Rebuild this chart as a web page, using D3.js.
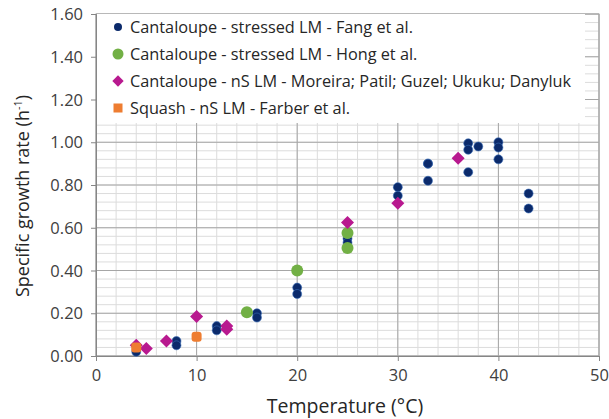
<!DOCTYPE html>
<html><head><meta charset="utf-8">
<script src="https://cdn.jsdelivr.net/npm/d3@7"></script>
<style>body{margin:0;background:#fff}svg{display:block}text{font-family:"Open Sans",sans-serif}</style>
</head><body><svg id="c" width="609" height="419"></svg>
<script>
const xTicks=[0,10,20,30,40,50];
const yTicks=[0,0.2,0.4,0.6,0.8,1.0,1.2,1.4,1.6];
const seriesNames=["Cantaloupe - stressed LM - Fang et al.","Cantaloupe - stressed LM - Hong et al.","Cantaloupe - nS LM - Moreira; Patil; Guzel; Ukuku; Danyluk","Squash - nS LM - Farber et al."];
const fangT=[4,8,8,12,12,16,16,20,20,25,25,30,30,33,33,33,37,37,37,38,40,40,40,43,43];
const fangR=[0.02,0.07,0.05,0.14,0.12,0.20,0.18,0.32,0.29,0.55,0.53,0.79,0.75,0.90,0.90,0.82,0.995,0.965,0.86,0.98,1.00,0.975,0.92,0.76,0.69];
const hongT=[15,20,25,25];
const hongR=[0.205,0.40,0.575,0.505];
const morT=[4,5,7,10,13,13,25,30,36];
const morR=[0.05,0.035,0.07,0.185,0.14,0.125,0.625,0.715,0.925];
const sqT=[4,10];
const sqR=[0.04,0.09];

const svg=d3.select("#c");
const x=d3.scaleLinear().domain([0,50]).range([96,599]);
const y=d3.scaleLinear().domain([0,1.6]).range([356,14]);
const g=svg.append("g");
// minor grid
g.selectAll(".vm").data(d3.range(0,50.01,2)).join("line").attr("x1",d=>x(d)).attr("x2",d=>x(d)).attr("y1",y(0)).attr("y2",y(1.6)).attr("stroke","#dcdcdc").attr("stroke-width",1);
g.selectAll(".hm").data(d3.range(0,1.601,0.04)).join("line").attr("y1",d=>y(d)).attr("y2",d=>y(d)).attr("x1",x(0)).attr("x2",x(50)).attr("stroke","#dcdcdc").attr("stroke-width",1);
// major grid
g.selectAll(".vM").data(xTicks).join("line").attr("x1",d=>x(d)).attr("x2",d=>x(d)).attr("y1",y(0)).attr("y2",y(1.6)).attr("stroke","#a6a6a6").attr("stroke-width",1);
g.selectAll(".hM").data(yTicks).join("line").attr("y1",d=>y(d)).attr("y2",d=>y(d)).attr("x1",x(0)).attr("x2",x(50)).attr("stroke","#a6a6a6").attr("stroke-width",1);
// border
svg.append("rect").attr("x",x(0)).attr("y",y(1.6)).attr("width",x(50)-x(0)).attr("height",y(0)-y(1.6)).attr("fill","none").attr("stroke","#a6a6a6");
// axes
const xa=svg.append("g").attr("transform",`translate(0,${y(0)})`).call(d3.axisBottom(x).tickValues(xTicks).tickSize(5).tickPadding(8).tickFormat(d3.format("d")));
const ya=svg.append("g").attr("transform",`translate(${x(0)},0)`).call(d3.axisLeft(y).tickValues(yTicks).tickSize(5).tickPadding(8).tickFormat(d3.format(".2f")));
[xa,ya].forEach(a=>{a.select(".domain").attr("stroke","#868686");a.selectAll(".tick line").attr("stroke","#868686");a.selectAll("text").attr("font-size",16.5).attr("fill","#404040").attr("font-family","Open Sans");});
ya.selectAll("text").attr("dy","0.34em");
// legend box
svg.append("rect").attr("x",97).attr("y",14).attr("width",488).attr("height",109).attr("fill","#fff");
const cols=["#0b2a6b","#72b045","#b8198f","#ee7d31"];
const leg=svg.append("g");
seriesNames.forEach((n,i)=>{
  const ly=27+i*27;
  const lg=leg.append("g").attr("transform",`translate(118,${ly})`);
  if(i===0) lg.append("circle").attr("r",4).attr("fill",cols[0]);
  if(i===1) lg.append("circle").attr("r",5.5).attr("fill",cols[1]);
  if(i===2) lg.append("rect").attr("x",-4).attr("y",-4).attr("width",8).attr("height",8).attr("transform","rotate(45)").attr("fill",cols[2]);
  if(i===3) lg.append("rect").attr("x",-4.5).attr("y",-4.5).attr("width",9).attr("height",9).attr("fill",cols[3]);
  lg.append("text").attr("x",12).attr("y",6).attr("font-size",16.3).attr("fill","#262626").text(n);
});
// points
const pts=svg.append("g");
pts.selectAll(".f").data(fangT.map((t,i)=>[t,fangR[i]])).join("circle").attr("cx",d=>x(d[0])).attr("cy",d=>y(d[1])).attr("r",4.5).attr("fill",cols[0]).attr("stroke","#3a6fb8").attr("stroke-width",0.6);
pts.selectAll(".h").data(hongT.map((t,i)=>[t,hongR[i]])).join("circle").attr("cx",d=>x(d[0])).attr("cy",d=>y(d[1])).attr("r",6).attr("fill",cols[1]);
pts.selectAll(".m").data(morT.map((t,i)=>[t,morR[i]])).join("rect").attr("x",-4.6).attr("y",-4.6).attr("width",9.2).attr("height",9.2).attr("transform",d=>`translate(${x(d[0])},${y(d[1])}) rotate(45)`).attr("fill",cols[2]);
pts.selectAll(".s").data(sqT.map((t,i)=>[t,sqR[i]])).join("rect").attr("x",d=>x(d[0])-5).attr("y",d=>y(d[1])-5).attr("width",10).attr("height",10).attr("rx",3).attr("fill",cols[3]);
// axis titles
svg.append("text").attr("x",345).attr("y",413).attr("text-anchor","middle").attr("font-size",19.5).attr("fill","#262626").text("Temperature (°C)");
const yt=svg.append("text").attr("transform","translate(29,196) rotate(-90)").attr("text-anchor","middle").attr("font-size",18).attr("fill","#262626");
yt.append("tspan").text("Specific growth rate (h");
yt.append("tspan").attr("font-size",11).attr("dy",-7).text("-1");
yt.append("tspan").attr("dy",7).text(")");
</script></body></html>
